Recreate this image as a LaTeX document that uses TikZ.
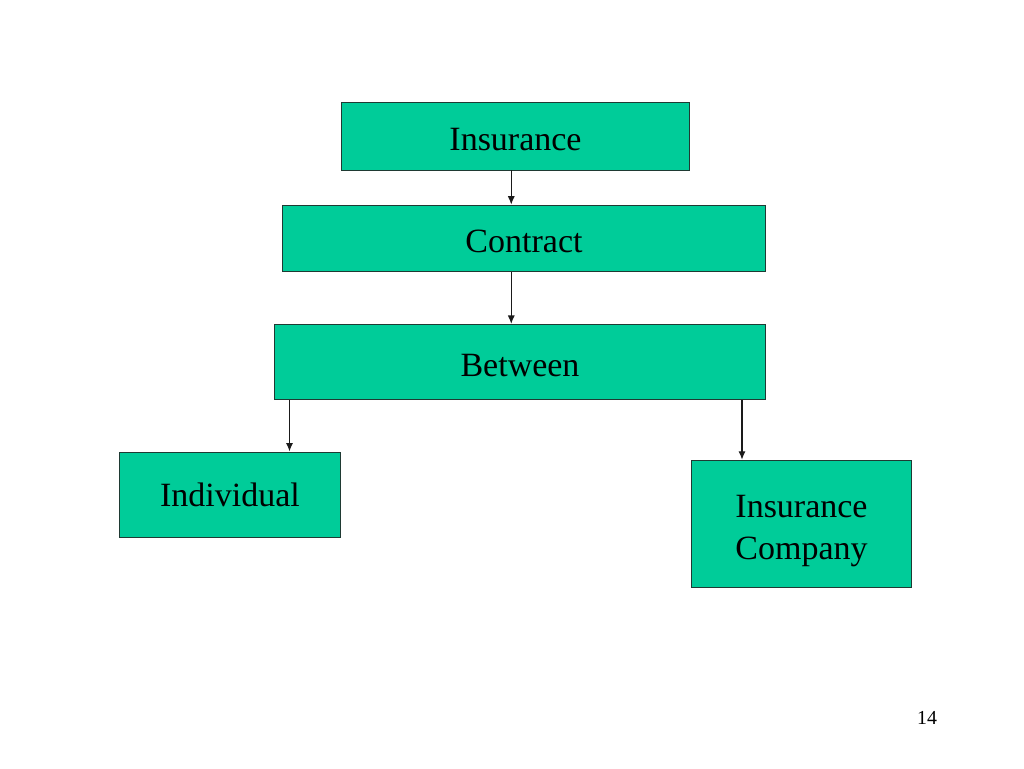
\documentclass[tikz,border=0pt]{standalone}
\usepackage{fontspec}
\setmainfont{Liberation Serif}
\usepackage{xcolor}
\usetikzlibrary{calc,positioning,arrows.meta}
\definecolor{boxfill}{HTML}{00CC99}
\definecolor{boxstroke}{HTML}{1F3A33}
\definecolor{edgeblack}{HTML}{1A1A1A}

\begin{document}
\begin{tikzpicture}[
  x=0.024805cm,
  y=-0.024805cm,
  link/.style={
    draw=edgeblack,
    line width=0.9pt,
    -{Latex[length=6pt,width=5pt]}
  },
  every node/.style={
    rectangle,
    align=center,
    inner sep=2pt,
    font=\fontsize{24}{29.5}\selectfont
  },
  card/.style={
    draw=boxstroke,
    fill=boxfill,
    line width=0.7pt
  },
  pagenum/.style={
    font=\fontsize{14}{16}\selectfont
  }
]

\path[use as bounding box] (0,0) rectangle (1024,768);

% Top chain
\node[card, text height=20.5pt, minimum width=245pt, minimum height=48pt] (insurance) at (515.5,136) {Insurance};
\node[card, text height=20.5pt, minimum width=341pt, minimum height=47pt] (contract)  at (524,238.5) {Contract};
\node[card, text height=20.5pt, minimum width=346pt, minimum height=53pt] (between)   at (520,362)   {Between};

% Parties
\node[card, minimum width=156pt, minimum height=60pt] (individual) at (230,494.5) {Individual};
\node[card, text height=55.5pt, minimum width=155pt, minimum height=90pt] (company) at (801.5,524) {Insurance\\Company};

% Connectors
\draw[link] ([xshift=-3pt]insurance.south) -- ([xshift=-3pt]insurance.south |- contract.north);
\draw[link] ([xshift=-3pt]insurance.south |- contract.south) -- ([xshift=-3pt]insurance.south |- between.north);
\draw[link] ([xshift=42pt]individual.north |- between.south) -- ([xshift=42pt]individual.north);
\draw[link] ([xshift=-42pt]company.north |- between.south) -- ([xshift=-42pt]company.north);

% Slide number
\node[pagenum] (slideno) at (927,718) {14};

\end{tikzpicture}
\end{document}
